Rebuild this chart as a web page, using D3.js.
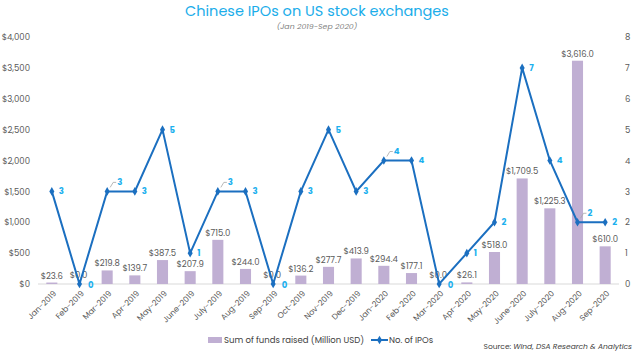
<!DOCTYPE html>
<html>
<head>
<meta charset="utf-8">
<script src="https://cdn.jsdelivr.net/npm/d3@7"></script>
<style>
  html, body { margin: 0; padding: 0; background: #fff; }
  svg { display: block; }
</style>
</head>
<body>
<div id="chart"></div>
<script>
const months = ['Jan-2019', 'Feb-2019', 'Mar-2019', 'Apr-2019', 'May-2019', 'June-2019', 'July-2019',
  'Aug-2019', 'Sep-2019', 'Oct-2019', 'Nov-2019', 'Dec-2019', 'Jan-2020', 'Feb-2020', 'Mar-2020',
  'Apr-2020', 'May-2020', 'June-2020', 'July-2020', 'Aug-2020', 'Sep-2020'];
const funds = [23.6, 0, 219.8, 139.7, 387.5, 207.9, 715.0, 244.0, 0, 136.2, 277.7, 413.9, 294.4,
  177.1, 0, 26.1, 518.0, 1709.5, 1225.3, 3616.0, 610.0];
const ipos = [3, 0, 3, 3, 5, 1, 3, 3, 0, 3, 5, 3, 4, 4, 0, 1, 2, 7, 4, 2, 2];
const leftTicks = [0, 500, 1000, 1500, 2000, 2500, 3000, 3500, 4000];
const rightTicks = [0, 1, 2, 3, 4, 5, 6, 7, 8];
// months whose IPO label sits up-right with a small leader line
const leaderMonths = ['Mar-2019', 'July-2019', 'Jan-2020', 'Aug-2020'];

const W = 640, H = 353;
const FONT = 'Poppins, "Open Sans", sans-serif';
const BAR = '#c0afd3', LINE = '#1b6fc0', LBL = '#1cb0ee', TXT = '#595959';

const svg = d3.select('#chart').append('svg').attr('width', W).attr('height', H);

const x = d3.scaleBand().domain(months).range([38, 619]).paddingInner(0.6).paddingOuter(0.3);
const y = d3.scaleLinear().domain([0, 4000]).range([284, 37]);
const y2 = d3.scaleLinear().domain([0, 8]).range([284, 37]);
const cx = m => x(m) + x.bandwidth() / 2;

// title
svg.append('text').attr('x', 317).attr('y', 16).attr('text-anchor', 'middle')
  .attr('fill', '#1badea').attr('font-size', '14.5px').attr('font-family', FONT)
  .text('Chinese IPOs on US stock exchanges');
svg.append('text').attr('x', 317).attr('y', 29).attr('text-anchor', 'middle')
  .attr('fill', '#7f7f7f').attr('font-size', '7.8px').attr('font-style', 'italic').attr('font-family', FONT)
  .text('(Jan 2019-Sep 2020)');

// left axis
svg.append('g').attr('transform', 'translate(30,0)')
  .call(d3.axisLeft(y).tickValues(leftTicks).tickSize(0).tickPadding(0).tickFormat(d => '$' + d3.format(',')(d)))
  .call(g => g.select('.domain').remove())
  .call(g => g.selectAll('.tick text').attr('fill', TXT).attr('font-size', '8.5px').attr('font-family', FONT));

// right axis
svg.append('g').attr('transform', 'translate(625,0)')
  .call(d3.axisRight(y2).tickValues(rightTicks).tickSize(0).tickPadding(0))
  .call(g => g.select('.domain').remove())
  .call(g => g.selectAll('.tick text').attr('fill', TXT).attr('font-size', '8.5px').attr('font-family', FONT));

// baseline
svg.append('line').attr('x1', 38).attr('x2', 619).attr('y1', y(0)).attr('y2', y(0))
  .attr('stroke', '#d9d9d9').attr('stroke-width', 1);

// x labels
svg.append('g').selectAll('text').data(months).join('text')
  .attr('transform', d => `translate(${cx(d) + 3},${292}) rotate(-45)`)
  .attr('text-anchor', 'end').attr('dy', '0.35em')
  .attr('fill', TXT).attr('font-size', '8px').attr('font-family', FONT)
  .text(d => d);

// bars
svg.append('g').selectAll('rect').data(months).join('rect')
  .attr('x', d => x(d)).attr('width', x.bandwidth())
  .attr('y', (d, i) => y(funds[i])).attr('height', (d, i) => y(0) - y(funds[i]))
  .attr('fill', BAR);

// bar labels
svg.append('g').selectAll('text').data(months).join('text')
  .attr('x', d => cx(d) - (funds[months.indexOf(d)] === 0 ? 1 : 0))
  .attr('y', (d, i) => y(funds[i]) - (funds[i] === 0 ? 6 : 4))
  .attr('text-anchor', 'middle').attr('fill', TXT).attr('font-size', '8.5px').attr('font-family', FONT)
  .text((d, i) => '$' + d3.format(',.1f')(funds[i]));

// IPO line
const line = d3.line().x(d => cx(d)).y((d, i) => y2(ipos[i]));
svg.append('path').datum(months).attr('d', line)
  .attr('fill', 'none').attr('stroke', LINE).attr('stroke-width', 2).attr('stroke-linejoin', 'miter');

svg.append('g').selectAll('path').data(months).join('path')
  .attr('transform', (d, i) => `translate(${cx(d)},${y2(ipos[i])})`)
  .attr('d', d3.symbol(d3.symbolDiamond, 22)).attr('fill', LINE);

// leader lines
const lead = svg.append('g');
months.forEach((m, i) => {
  if (!leaderMonths.includes(m)) return;
  const px = cx(m), py = y2(ipos[i]);
  lead.append('path')
    .attr('d', `M${px + 3},${py - 4}L${px + 6},${py - 9}L${px + 9},${py - 9}`)
    .attr('fill', 'none').attr('stroke', '#a6a6a6').attr('stroke-width', 0.8);
});

// IPO labels
svg.append('g').selectAll('text').data(months).join('text')
  .attr('x', d => cx(d) + (leaderMonths.includes(d) ? 10 : 7) + (ipos[months.indexOf(d)] === 0 ? 1.5 : 0))
  .attr('y', (d, i) => y2(ipos[i]) + (leaderMonths.includes(d) ? -9 : 0) + (ipos[i] === 0 ? 1.5 : 0))
  .attr('dy', '0.35em').attr('fill', LBL).attr('font-size', '8.5px').attr('font-weight', 'bold')
  .attr('font-family', FONT)
  .text((d, i) => ipos[i]);

// legend
const lg = svg.append('g');
lg.append('rect').attr('x', 208).attr('y', 337).attr('width', 14).attr('height', 6).attr('fill', BAR);
lg.append('text').attr('x', 224).attr('y', 340).attr('dy', '0.35em').attr('fill', '#404040')
  .attr('font-size', '8.5px').attr('font-family', FONT).text('Sum of funds raised (Million USD)');
lg.append('line').attr('x1', 371).attr('x2', 388).attr('y1', 340).attr('y2', 340)
  .attr('stroke', LINE).attr('stroke-width', 2);
lg.append('path').attr('transform', 'translate(379.5,340)')
  .attr('d', d3.symbol(d3.symbolDiamond, 22)).attr('fill', LINE);
lg.append('text').attr('x', 389).attr('y', 340).attr('dy', '0.35em').attr('fill', '#404040')
  .attr('font-size', '8.5px').attr('font-family', FONT).text('No. of IPOs');

// source
const src = svg.append('text').attr('x', 632).attr('y', 346).attr('dy', '0.35em').attr('text-anchor', 'end')
  .attr('fill', '#404040').attr('font-size', '7.5px').attr('font-family', FONT);
src.append('tspan').text('Source: ');
src.append('tspan').attr('font-style', 'italic').text('Wind, DSA Research & Analytics');
</script>
</body>
</html>
